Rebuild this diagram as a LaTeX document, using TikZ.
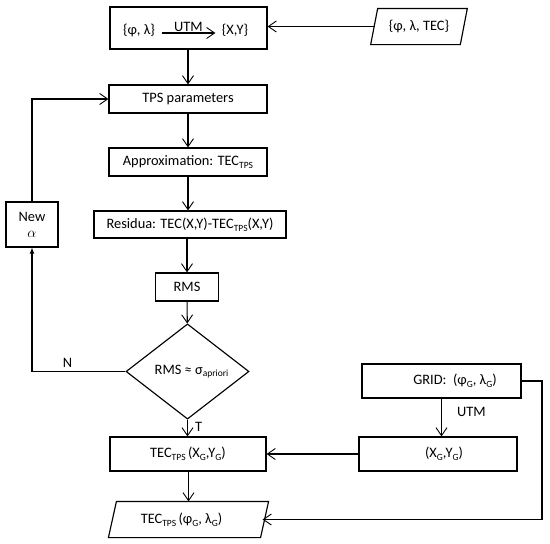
\documentclass[tikz,border=0pt]{standalone}
\usepackage{fontspec}
\setmainfont{Carlito}
\usetikzlibrary{arrows.meta,shapes.geometric}
\newcommand\sbs[1]{\raisebox{-0.4ex}{\fontsize{9.5}{10}\selectfont #1}}
\begin{document}
\begin{tikzpicture}[x=1pt,y=-1pt,
  font=\fontsize{14.4}{17}\selectfont,
  line width=1.15pt,
  box/.style={draw, rectangle, inner sep=0pt},
  ghost/.style={rectangle, inner sep=0pt},
  arr/.style={-{Straight Barb[length=8pt,width=11pt,line width=0.9pt]}},
  farr/.style={-{Latex[length=6pt,width=5pt]}},
  lbl/.style={inner sep=1pt},
  inlbl/.style={inner ysep=1pt, inner xsep=6pt},
]
\useasboundingbox (0,0) rectangle (550,544);

% top box
\node[box, minimum width=157, minimum height=42] (top) at (188.5,28) {};
\node[inlbl] (phl) at (139,30) {\{φ, λ\}};
\node[inlbl] (xy) at (235,30) {\{X,Y\}};
\coordinate (ay) at (0,33);
\draw[arr] (phl.east |- ay) -- node[lbl, above=0pt] {UTM} (xy.west |- ay);

% input parallelogram
\node[ghost, minimum width=88.5, minimum height=35] (inp) at (419,26.5) {\{φ, λ, TEC\}};
\draw ([xshift=-3.5pt]inp.south west) -- ([xshift=3.5pt]inp.north west) -- ([xshift=3.5pt]inp.north east) -- ([xshift=-3.5pt]inp.south east) -- cycle;

% main column
\node[box, minimum width=158, minimum height=28] (tps) at (188,99) {TPS parameters};
\node[box, minimum width=158, minimum height=28] (apx) at (188,162) {Approximation: TEC\sbs{TPS}};
\node[box, minimum width=192, minimum height=27] (res) at (190,224.5) {Residua: TEC(X,Y)-TEC\sbs{TPS}(X,Y)};
\node[box, minimum width=63, minimum height=28] (rms) at (187,287) {RMS};
\node[draw, diamond, inner sep=0pt, minimum width=123, minimum height=69] (dia) at (187.5,371.5) {\hspace*{8pt}RMS ≈ σ\sbs{apriori}};
\node[box, minimum width=52, minimum height=45, align=center] (newa) at (32,224.5) {New\\[-1pt] \(\alpha\)};
\node[box, minimum width=156, minimum height=34] (tecg) at (188,454) {TEC\sbs{TPS}\,(X\sbs{G},Y\sbs{G})};
\node[box, minimum width=158, minimum height=34] (xg) at (438,454) {\hspace*{12pt}(X\sbs{G},Y\sbs{G})};
\node[box, minimum width=159, minimum height=34] (grid) at (441.5,381) {\hspace*{27pt}GRID:\ \ (φ\sbs{G}, λ\sbs{G})};

% output parallelogram
\node[ghost, minimum width=151, minimum height=35] (out) at (188.5,519.5) {TEC\sbs{TPS}\,(φ\sbs{G}, λ\sbs{G})\hspace*{14pt}};
\draw ([xshift=-4pt]out.south west) -- ([xshift=4pt]out.north west) -- ([xshift=4pt]out.north east) -- ([xshift=-4pt]out.south east) -- cycle;

% connectors
\draw[arr] (inp.west) -- (top.east |- inp.west);
\draw[arr] (top.south -| tps.north) -- (tps.north);
\draw[arr] (tps) -- (apx);
\draw[arr] (apx.south) -- (apx.south |- res.north);
\draw[arr] (res.south -| rms.north) -- (rms.north);
\draw[arr] (rms) -- (dia);
\draw[arr] (newa.north) |- (tps.west);
\draw[farr] (dia.west) -| node[lbl, pos=0.31, above=2pt] {N} (newa.south);
\draw[arr] (dia.south) -- node[lbl, right=6pt, pos=0.4] {T} (dia.south |- tecg.north);
\draw[arr] (grid.south) -- node[lbl, right=14pt, pos=0.35] {UTM} (grid.south |- xg.north);
\draw[arr] (xg.west) -- (tecg.east);
\draw[arr] (tecg.south -| out.north) -- (out.north);
\coordinate (cr) at (542,381);
\draw[arr] (grid.east) -- (cr) |- ([xshift=-2pt]out.east);
\end{tikzpicture}
\end{document}
